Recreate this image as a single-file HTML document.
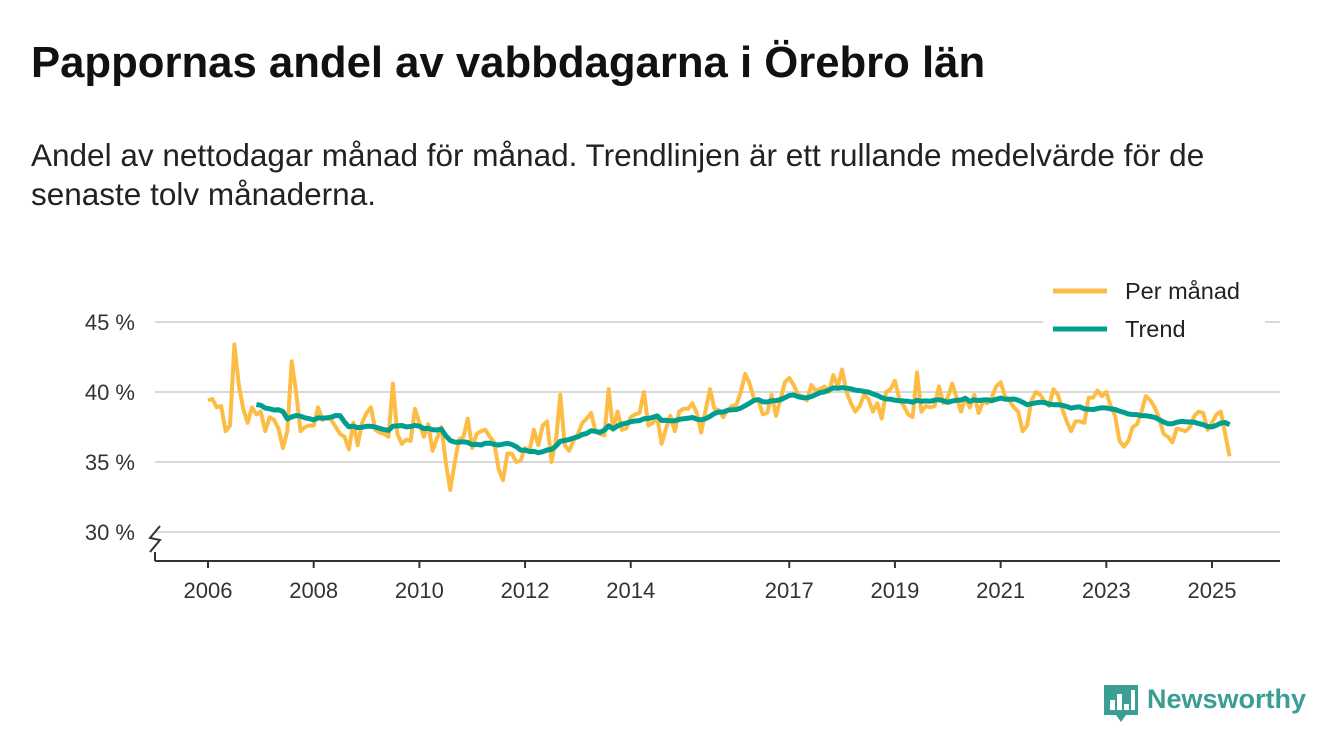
<!DOCTYPE html>
<html><head><meta charset="utf-8"><style>
body{margin:0;background:#fff;width:1340px;height:753px;overflow:hidden;font-family:"Liberation Sans",sans-serif;}
#title{position:absolute;left:31px;top:38px;font-size:43.7px;font-weight:bold;color:#111;}
#sub{position:absolute;left:31px;top:136px;font-size:31.5px;line-height:39px;color:#222;width:1250px;}
svg{position:absolute;left:0;top:0;}
</style></head><body>
<div id="title">Pappornas andel av vabbdagarna i Örebro län</div>
<div id="sub">Andel av nettodagar månad för månad. Trendlinjen är ett rullande medelvärde för de senaste tolv månaderna.</div>
<svg id="chart" width="1340" height="753"></svg>
<script>
const years=[2006,2008,2010,2012,2014,2017,2019,2021,2023,2025];
const yTicks=[30,35,40,45];
const startYear=2006;
const monthly=[
39.4,39.5,38.9,39.0,37.2,37.6,43.4,40.5,38.8,37.8,38.9,38.4,
38.6,37.2,38.2,38.0,37.4,36.0,37.2,42.2,40.0,37.2,37.5,37.6,
37.6,38.9,38.0,38.2,38.0,37.5,37.0,36.8,35.9,37.8,36.2,37.8,
38.5,38.9,37.3,37.1,37.0,36.8,40.6,37.0,36.3,36.6,36.5,38.8,
37.8,36.8,37.7,35.8,36.7,37.5,35.0,33.0,34.9,36.6,36.8,38.1,
36.0,37.0,37.2,37.3,36.8,36.4,34.5,33.7,35.6,35.6,35.0,35.1,
36.0,35.8,37.3,36.2,37.6,37.9,35.0,36.5,39.8,36.2,35.8,36.5,
37.0,37.8,38.1,38.5,37.2,37.0,36.9,40.2,37.3,38.6,37.3,37.4,
38.2,38.4,38.5,40.0,37.6,37.8,38.2,36.3,37.4,38.3,37.2,38.6,
38.8,38.8,39.2,38.5,37.1,38.7,40.2,38.8,38.7,38.2,38.7,39.0,
39.1,40.0,41.3,40.6,39.5,39.4,38.4,38.5,39.8,38.3,39.5,40.7,
41.0,40.5,39.8,39.7,39.4,40.5,40.1,40.2,40.4,40.0,41.2,40.4,
41.6,40.0,39.2,38.6,39.0,39.8,39.5,38.6,39.2,38.1,40.0,40.2,
40.8,39.5,39.0,38.4,38.2,41.4,38.6,39.0,38.9,39.0,40.4,39.2,
39.6,40.6,39.6,38.6,39.6,38.9,39.8,38.5,39.3,39.2,39.6,40.4,
40.7,39.7,39.4,38.9,38.6,37.2,37.6,39.4,40.0,39.8,39.3,39.0,
40.2,39.8,38.8,37.9,37.2,37.9,37.9,37.8,39.6,39.6,40.1,39.7,
40.0,39.0,38.3,36.5,36.1,36.5,37.5,37.7,38.6,39.7,39.4,38.9,
38.1,37.0,36.8,36.4,37.4,37.3,37.2,37.5,38.3,38.6,38.5,37.3,
37.8,38.4,38.6,37.0,35.4];
const NS="http://www.w3.org/2000/svg";
const svg=document.getElementById('chart');
const X=t=>208+(t-2006)*(1212-208)/19;
const Y=v=>392-(v-40)*14;
function mk(tag,attrs,parent){const e=document.createElementNS(NS,tag);for(const k in attrs)e.setAttribute(k,attrs[k]);(parent||svg).appendChild(e);return e;}
yTicks.forEach(v=>{
 const g=mk('line',{x1:155,x2:1280,y1:Y(v),y2:Y(v),stroke:'#d9d9d9','stroke-width':2});
 
 
 const t=mk('text',{x:135,y:Y(v)+8,'text-anchor':'end','font-size':22,fill:'#333'});
 t.textContent=v+' %';
 
 
});
const ax=mk('line',{x1:155,x2:1280,y1:561,y2:561,stroke:'#333','stroke-width':2});


const br=mk('path',{d:'M150,552 L160,540 L150,538 L160,526',fill:'none',stroke:'#333','stroke-width':2});


const br2=mk('line',{x1:155,x2:155,y1:552,y2:561,stroke:'#333','stroke-width':2});


years.forEach(yr=>{
 const tk=mk('line',{x1:X(yr),x2:X(yr),y1:561,y2:568,stroke:'#333','stroke-width':2});
 
 
 const t=mk('text',{x:X(yr),y:598,'text-anchor':'middle','font-size':22,fill:'#333'});
 t.textContent=yr;
 
 
});
const tx=i=>X(startYear+i/12);
let d='';monthly.forEach((v,i)=>{d+=(i?'L':'M')+tx(i).toFixed(1)+','+Y(v).toFixed(1);});
const m=mk('path',{d:d,fill:'none',stroke:'#fdbd45','stroke-width':4,'stroke-linejoin':'round'});


let d2='';
for(let i=11;i<monthly.length;i++){let s=0;for(let j=i-11;j<=i;j++)s+=monthly[j];d2+=(i>11?'L':'M')+tx(i).toFixed(1)+','+Y(s/12).toFixed(1);}
const tr=mk('path',{d:d2,fill:'none',stroke:'#009e8f','stroke-width':5,'stroke-linejoin':'round'});


const lb=mk('rect',{x:1043,y:270,width:222,height:80,fill:'#fff'});


[['Per månad','#fdbd45',291],['Trend','#009e8f',329]].forEach(([n,c,y])=>{
 const l=mk('line',{x1:1053,x2:1107,y1:y,y2:y,stroke:c,'stroke-width':5});
 
 
 const t=mk('text',{x:1125,y:y+8,'font-size':23.5,fill:'#222'});
 t.textContent=n;
 
 
});
const lg=mk('g',{});


mk('path',{d:'M1104,685 h34 v30 h-12 l-5,7 l-5,-7 h-12 z',fill:'#3a9e93'},lg);
[[1110,700,5,10],[1117,694,5,16],[1124,704,5,6],[1131,690,4,20]].forEach(r=>mk('rect',{x:r[0],y:r[1],width:r[2],height:r[3],fill:'#fff'},lg));
const lt=mk('text',{x:1147,y:708,'font-size':27,'font-weight':'bold',fill:'#3a9e93'},lg);
lt.textContent='Newsworthy';
</script>
</body></html>
